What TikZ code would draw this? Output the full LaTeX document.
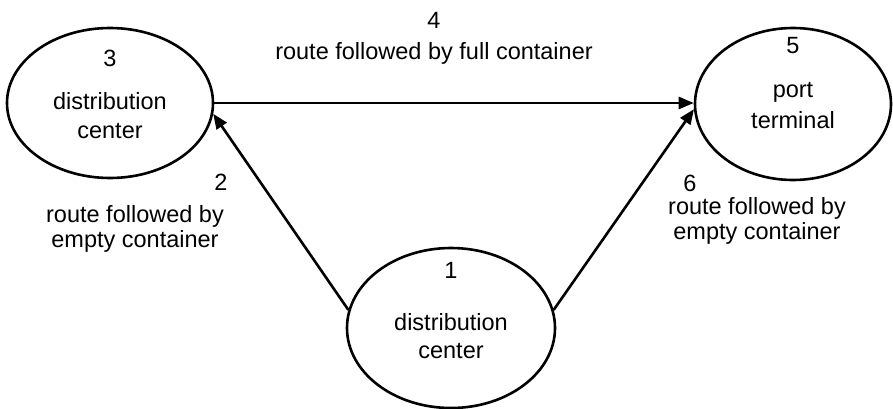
\documentclass[tikz,border=0pt]{standalone}
\usepackage{fontspec}
\setmainfont{Liberation Sans}
\usetikzlibrary{shapes.geometric,arrows.meta}
\begin{document}
\begin{tikzpicture}[x=1pt,y=-1pt,
  place/.style={draw,ellipse,line width=2.6pt,inner sep=0pt},
  txt/.style={inner sep=0pt,font=\fontsize{23.5}{28}\selectfont},
  flow/.style={line width=2.6pt,-{Triangle[length=15pt,width=12pt]}}]
\useasboundingbox (0,0) rectangle (893,409);
% locations
\node[place,minimum width=206pt,minimum height=150pt] (e3) at (110,103) {};
\node[place,minimum width=196pt,minimum height=152pt] (e5) at (793,104) {};
\node[place,minimum width=208pt,minimum height=160pt] (e1) at (451,328) {};
% labels inside the locations
\node[txt] (n3) at (110,58) {3};
\node[txt] (d3) at (110,101) {distribution};
\node[txt] (c3) at (110,131) {center};
\node[txt] (n5) at (793,46) {5};
\node[txt] (p5) at (793,92) {port};
\node[txt] (t5) at (793,120) {terminal};
\node[txt] (n1) at (451,270) {1};
\node[txt] (d1) at (451,322) {distribution};
\node[txt] (c1) at (451,351) {center};
% route labels
\node[txt] (n4) at (434,20) {4};
\node[txt] (r4) at (434,53) {route followed by full container};
\node[txt] (n2) at (221,182) {2};
\node[txt] (r2) at (135,216) {route followed by};
\node[txt] (m2) at (135,241) {empty container};
\node[txt] (n6) at (690,183) {6};
\node[txt] (r6) at (757,208) {route followed by};
\node[txt] (m6) at (757,233) {empty container};
% routes
\draw[flow] (e3.east) -- (e3.east -| e5.west);
\draw[flow] (e1.170) -- (e3.-6);
\draw[flow] (e1.10) -- (e5.-177);
\end{tikzpicture}
\end{document}
